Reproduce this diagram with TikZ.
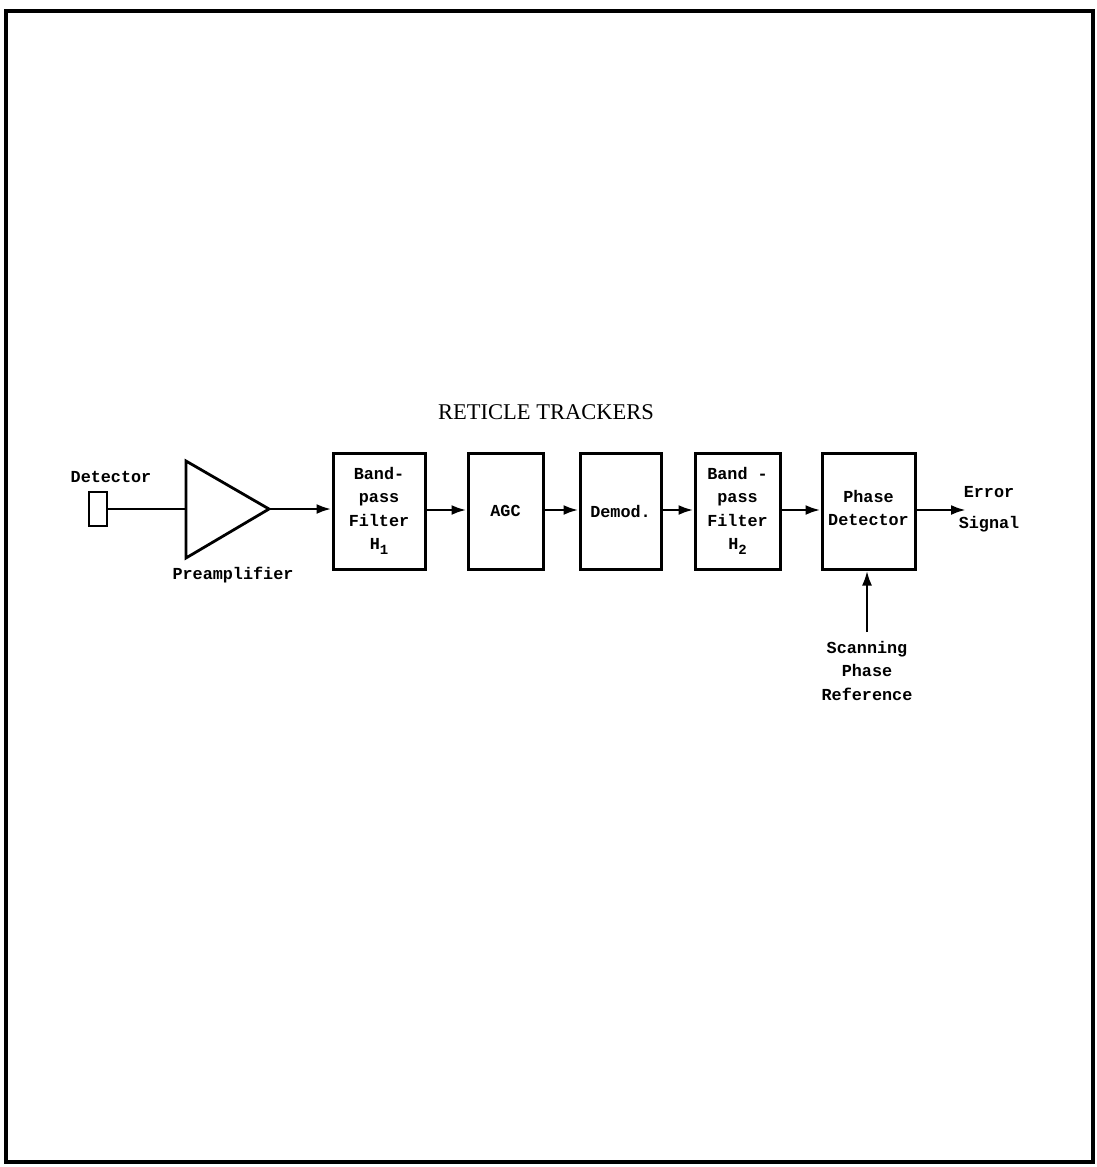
\documentclass[tikz,border=0pt]{standalone}
\usepackage{fontspec}
\usetikzlibrary{arrows.meta}
\newfontfamily\twfont{Liberation Mono}
\newfontfamily\titlefont{Liberation Serif}
\newcommand{\lowsub}[1]{\raisebox{-5pt}{\fontsize{14}{14}\selectfont #1}}
\begin{document}
\begin{tikzpicture}[x=1pt,y=-1pt,
  lbl/.style={font=\twfont\bfseries\fontsize{16.8}{23.5}\selectfont, inner sep=0pt, align=center},
  blk/.style={draw, line width=3pt, minimum height=116pt, inner sep=0pt, lbl},
  conn/.style={line width=2.8pt},
  arr/.style={conn, -{Latex[length=15pt,width=10pt]}}]
\useasboundingbox (0,0) rectangle (1097,1167);
\draw[line width=3.5pt] (6,11) rectangle (1093,1162);
\node[font=\titlefont\fontsize{22.5}{26}\selectfont, inner sep=0pt] (title) at (546,412) {RETICLE TRACKERS};
% detector
\node[draw, line width=2.6pt, minimum width=18pt, minimum height=34pt, inner sep=0pt] (det) at (98,509) {};
\node[lbl] (detl) at (111,477) {Detector};
% amplifier
\coordinate (ampin) at (186,509);
\coordinate (ampout) at (269,509);
\draw[conn, line join=miter] (186,461) -- (ampout) -- (186,558) -- cycle;
\node[lbl] (ampl) at (233,575) {Preamplifier};
% blocks
\node[blk, minimum width=92pt] (h1) at (379,511) {Band-\\pass\\Filter\\H\lowsub{1}};
\node[blk, minimum width=75pt] (agc) at (505.5,511) {AGC};
\node[blk, minimum width=81pt] (dem) at (620.5,511) {Demod.};
\node[blk, minimum width=85pt] (h2) at (737.5,511) {Band -\\pass\\Filter\\H\lowsub{2}};
\node[blk, minimum width=93pt] (pd) at (868.5,511) {};
\node[lbl] (pdl) at (868.5,508) {Phase\\Detector};
\node[lbl] (err) at (989,509) {Error\\[8pt]Signal};
\coordinate (errend) at (966,510);
\node[lbl, anchor=north] (scan) at (867,641) {Scanning\\Phase\\Reference};
\coordinate (scanstart) at (867,632);
% connectors
\draw[conn] (det.east) -- (ampin);
\draw[arr] (ampout) -- (ampout -| h1.west);
\draw[arr] (h1.east |- 0,510) -- (agc.west |- 0,510);
\draw[arr] (agc.east |- 0,510) -- (dem.west |- 0,510);
\draw[arr] (dem.east |- 0,510) -- (h2.west |- 0,510);
\draw[arr] (h2.east |- 0,510) -- (pd.west |- 0,510);
\draw[arr] (pd.east |- 0,510) -- (errend);
\draw[arr] (scanstart) -- (scanstart |- pd.south);
\end{tikzpicture}
\end{document}
